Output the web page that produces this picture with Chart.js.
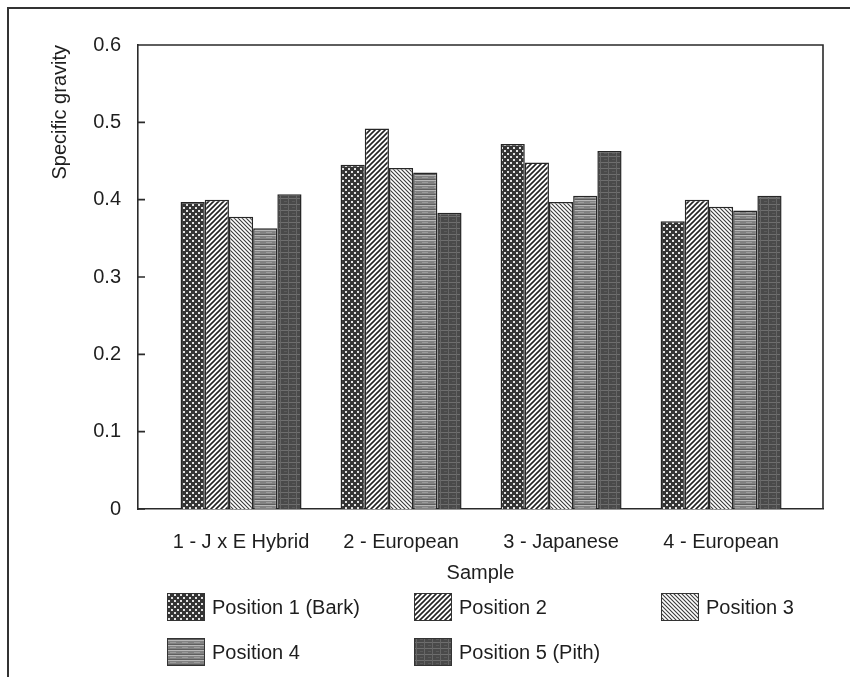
<!DOCTYPE html>
<html>
<head>
<meta charset="utf-8">
<script src="https://cdn.jsdelivr.net/npm/chart.js@4/dist/chart.umd.min.js"></script>
<style>
  html, body { margin: 0; padding: 0; background: #fff; }
  #wrap { position: relative; width: 857px; height: 677px; }
</style>
</head>
<body>
<div id="wrap"><canvas id="c" width="857" height="677"></canvas></div>
<script>
// ---- data ----
const categories = ['1 - J x E Hybrid', '2 - European', '3 - Japanese', '4 - European'];
const seriesNames = ['Position 1 (Bark)', 'Position 2', 'Position 3', 'Position 4', 'Position 5 (Pith)'];
const position1 = [0.397, 0.445, 0.472, 0.372];
const position2 = [0.400, 0.492, 0.448, 0.400];
const position3 = [0.378, 0.441, 0.397, 0.391];
const position4 = [0.363, 0.435, 0.405, 0.386];
const position5 = [0.407, 0.383, 0.463, 0.405];
const yTicks = [0, 0.1, 0.2, 0.3, 0.4, 0.5, 0.6];
const xTitle = 'Sample';
const yTitle = 'Specific gravity';

// ---- patterns ----
function makePattern(w, h, draw) {
  const c = document.createElement('canvas');
  c.width = w; c.height = h;
  const g = c.getContext('2d');
  draw(g, w, h);
  return g.createPattern(c, 'repeat');
}
const pat1 = makePattern(6, 6, (g, w, h) => {
  g.fillStyle = '#343434'; g.fillRect(0, 0, w, h);
  g.fillStyle = '#e2e2e2';
  g.fillRect(0, 0, 2, 2); g.fillRect(3, 3, 2, 2);
});
const pat2 = makePattern(5, 5, (g, w, h) => {
  g.fillStyle = '#fff'; g.fillRect(0, 0, w, h);
  g.strokeStyle = '#222'; g.lineWidth = 1.6;
  g.beginPath();
  g.moveTo(-1, h + 1); g.lineTo(w + 1, -1);
  g.moveTo(-1, 1); g.lineTo(1, -1);
  g.moveTo(w - 1, h + 1); g.lineTo(w + 1, h - 1);
  g.stroke();
});
const pat3 = makePattern(4, 4, (g, w, h) => {
  g.fillStyle = '#fff'; g.fillRect(0, 0, w, h);
  g.strokeStyle = '#3a3a3a'; g.lineWidth = 1.1;
  g.beginPath();
  g.moveTo(-1, -1); g.lineTo(w + 1, h + 1);
  g.moveTo(w - 1, -1); g.lineTo(w + 1, 1);
  g.moveTo(-1, h - 1); g.lineTo(1, h + 1);
  g.stroke();
});
const pat4 = makePattern(12, 5, (g, w, h) => {
  g.fillStyle = '#828282'; g.fillRect(0, 0, w, h);
  g.fillStyle = '#b8b8b8'; g.fillRect(0, 0, w, 1);
  g.fillStyle = '#9c9c9c'; g.fillRect(2, 2, 6, 1);
  g.fillStyle = '#5e5e5e'; g.fillRect(0, 4, w, 1);
});
const pat5 = makePattern(8, 6, (g, w, h) => {
  g.fillStyle = '#4a4a4a'; g.fillRect(0, 0, w, h);
  g.fillStyle = '#6e6e6e'; g.fillRect(0, 0, w, 1);
  g.fillStyle = '#666'; g.fillRect(0, 0, 1, h);
  g.fillStyle = '#5a5a5a'; g.fillRect(4, 3, 3, 1);
});
const patterns = [pat1, pat2, pat3, pat4, pat5];
const seriesValues = [position1, position2, position3, position4, position5];

const FONT = "'Liberation Sans', Arial, Helvetica, sans-serif";
const TEXT = '#1e1e1e';

// ---- plugins ----
const framePlugin = {
  id: 'frame',
  beforeDraw(chart) {
    const ctx = chart.ctx;
    ctx.save();
    ctx.strokeStyle = '#333'; ctx.lineWidth = 2;
    ctx.beginPath();
    ctx.moveTo(8, 677); ctx.lineTo(8, 8); ctx.lineTo(850, 8);
    ctx.stroke();
    ctx.restore();
  },
  afterDraw(chart) {
    const ctx = chart.ctx, a = chart.chartArea, ys = chart.scales.y;
    ctx.save();
    ctx.strokeStyle = '#2a2a2a'; ctx.lineWidth = 1.6;
    ctx.beginPath();
    ctx.moveTo(a.left, a.top); ctx.lineTo(a.right, a.top); ctx.lineTo(a.right, a.bottom);
    ys.ticks.forEach(t => {
      const y = ys.getPixelForValue(t.value);
      ctx.moveTo(a.left, y); ctx.lineTo(a.left + 7, y);
    });
    ctx.stroke();
    // legend
    const cols = [167, 414, 661], rows = [607, 652];
    ctx.font = '20px ' + FONT;
    ctx.textBaseline = 'middle'; ctx.textAlign = 'left';
    chart.data.datasets.forEach((ds, i) => {
      const x = cols[i % 3], y = rows[Math.floor(i / 3)];
      ctx.fillStyle = ds.backgroundColor;
      ctx.fillRect(x, y - 14, 38, 28);
      ctx.strokeStyle = '#333'; ctx.lineWidth = 1;
      ctx.strokeRect(x + 0.5, y - 13.5, 37, 27);
      ctx.fillStyle = TEXT;
      ctx.fillText(ds.label, x + 45, y + 1);
    });
    ctx.restore();
  }
};

new Chart(document.getElementById('c'), {
  type: 'bar',
  data: {
    datasets: seriesNames.map((name, i) => ({
      label: name,
      data: seriesValues[i].map((v, k) => ({ x: k, y: v })),
      backgroundColor: patterns[i],
      borderColor: '#262626',
      borderWidth: 1.5,
      borderSkipped: 'bottom',
      categoryPercentage: 0.756,
      barPercentage: 1.0
    }))
  },
  options: {
    responsive: false,
    devicePixelRatio: 1,
    animation: false,
    layout: { padding: { left: 0, top: 45, right: 34, bottom: 88 } },
    plugins: { legend: { display: false }, tooltip: { enabled: false } },
    scales: {
      x: {
        type: 'linear',
        min: -0.644,
        max: 3.637,
        offset: false,
        afterBuildTicks: (axis) => { axis.ticks = categories.map((c, i) => ({ value: i })); },
        afterFit: (scale) => { scale.height = 80; },
        grid: { display: false, drawTicks: false },
        border: { display: true, color: '#2a2a2a', width: 1.6 },
        ticks: {
          padding: 21,
          maxRotation: 0,
          autoSkip: false,
          color: TEXT,
          font: { family: FONT, size: 20 },
          callback: (v) => categories[v] !== undefined ? categories[v] : ''
        },
        title: {
          display: true, text: xTitle, color: TEXT,
          font: { family: FONT, size: 20 },
          padding: { top: 0, bottom: 4 }
        }
      },
      y: {
        min: 0, max: 0.6,
        afterBuildTicks: (axis) => { axis.ticks = yTicks.map(v => ({ value: v })); },
        afterFit: (scale) => { scale.width = 138; },
        grid: { display: false, drawTicks: false },
        border: { display: true, color: '#2a2a2a', width: 1.6 },
        ticks: {
          padding: 17,
          color: TEXT,
          font: { family: FONT, size: 20 },
          callback: (v) => v === 0 ? '0' : v.toFixed(1)
        },
        title: {
          display: true, text: yTitle, align: 'end', color: TEXT,
          font: { family: FONT, size: 20 },
          padding: { top: 48, bottom: 0 }
        }
      }
    }
  },
  plugins: [framePlugin]
});
</script>
</body>
</html>
